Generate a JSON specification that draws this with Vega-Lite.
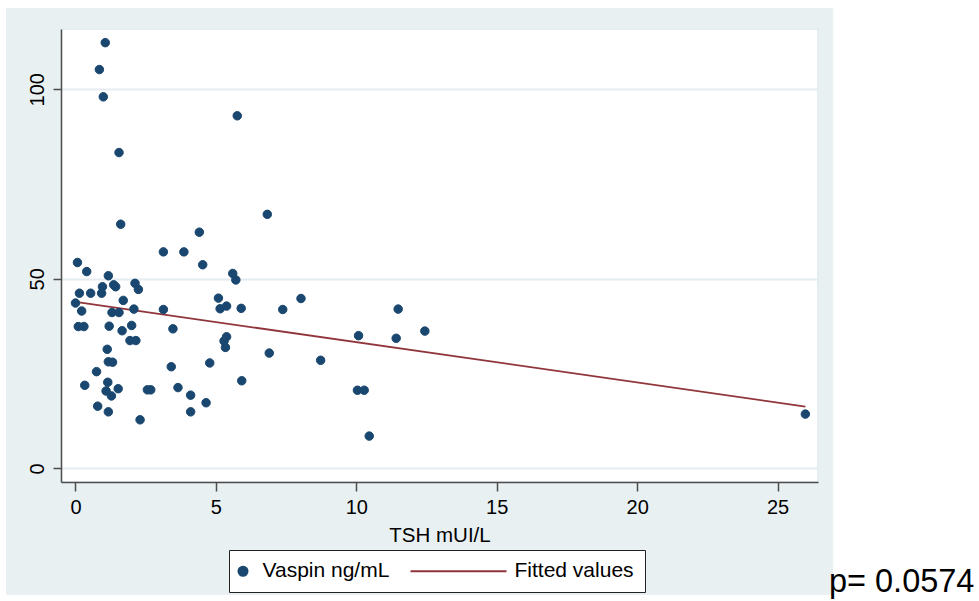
{
  "$schema": "https://vega.github.io/schema/vega-lite/v6.json",
  "width": 757,
  "height": 453,
  "autosize": {"type": "none"},
  "padding": {"left": 61, "top": 29, "right": 161, "bottom": 119},
  "background": "#E8F0F2",
  "config": {
    "font": "Liberation Sans",
    "view": {"fill": "white", "stroke": "#E1EAEE", "strokeWidth": 1.5},
    "legend": {
      "orient": "none", "legendX": 168, "legendY": 521, "direction": "horizontal",
      "padding": 10.5, "strokeColor": "#222222", "fillColor": "white", "labelFontSize": 21,
      "labelColor": "black", "symbolSize": 85, "columnPadding": 17, "labelLimit": 300,
      "symbolStrokeWidth": 1.8, "symbolOffset": -7, "labelOffset": 9, "symbolOpacity": 1
    }
  },
  "datasets": {
    "pts": [
      {"tsh": 1.06, "vaspin": 112.3, "series": "Vaspin ng/mL"},
      {"tsh": 0.85, "vaspin": 105.2, "series": "Vaspin ng/mL"},
      {"tsh": 0.99, "vaspin": 98.0, "series": "Vaspin ng/mL"},
      {"tsh": 5.76, "vaspin": 93.0, "series": "Vaspin ng/mL"},
      {"tsh": 1.55, "vaspin": 83.3, "series": "Vaspin ng/mL"},
      {"tsh": 6.83, "vaspin": 67.0, "series": "Vaspin ng/mL"},
      {"tsh": 1.61, "vaspin": 64.4, "series": "Vaspin ng/mL"},
      {"tsh": 4.41, "vaspin": 62.3, "series": "Vaspin ng/mL"},
      {"tsh": 3.13, "vaspin": 57.1, "series": "Vaspin ng/mL"},
      {"tsh": 3.86, "vaspin": 57.1, "series": "Vaspin ng/mL"},
      {"tsh": 0.07, "vaspin": 54.3, "series": "Vaspin ng/mL"},
      {"tsh": 0.40, "vaspin": 51.9, "series": "Vaspin ng/mL"},
      {"tsh": 1.17, "vaspin": 50.8, "series": "Vaspin ng/mL"},
      {"tsh": 4.53, "vaspin": 53.7, "series": "Vaspin ng/mL"},
      {"tsh": 0.96, "vaspin": 47.9, "series": "Vaspin ng/mL"},
      {"tsh": 1.36, "vaspin": 48.4, "series": "Vaspin ng/mL"},
      {"tsh": 1.43, "vaspin": 47.9, "series": "Vaspin ng/mL"},
      {"tsh": 2.12, "vaspin": 48.8, "series": "Vaspin ng/mL"},
      {"tsh": 2.24, "vaspin": 47.2, "series": "Vaspin ng/mL"},
      {"tsh": 0.14, "vaspin": 46.2, "series": "Vaspin ng/mL"},
      {"tsh": 0.54, "vaspin": 46.2, "series": "Vaspin ng/mL"},
      {"tsh": 0.93, "vaspin": 46.2, "series": "Vaspin ng/mL"},
      {"tsh": 5.60, "vaspin": 51.4, "series": "Vaspin ng/mL"},
      {"tsh": 5.71, "vaspin": 49.7, "series": "Vaspin ng/mL"},
      {"tsh": 0.0, "vaspin": 43.6, "series": "Vaspin ng/mL"},
      {"tsh": 1.70, "vaspin": 44.3, "series": "Vaspin ng/mL"},
      {"tsh": 5.09, "vaspin": 44.9, "series": "Vaspin ng/mL"},
      {"tsh": 8.03, "vaspin": 44.8, "series": "Vaspin ng/mL"},
      {"tsh": 0.22, "vaspin": 41.5, "series": "Vaspin ng/mL"},
      {"tsh": 1.30, "vaspin": 41.1, "series": "Vaspin ng/mL"},
      {"tsh": 1.55, "vaspin": 41.1, "series": "Vaspin ng/mL"},
      {"tsh": 2.08, "vaspin": 42.0, "series": "Vaspin ng/mL"},
      {"tsh": 3.13, "vaspin": 41.9, "series": "Vaspin ng/mL"},
      {"tsh": 5.15, "vaspin": 42.1, "series": "Vaspin ng/mL"},
      {"tsh": 5.38, "vaspin": 42.8, "series": "Vaspin ng/mL"},
      {"tsh": 5.90, "vaspin": 42.2, "series": "Vaspin ng/mL"},
      {"tsh": 7.38, "vaspin": 41.9, "series": "Vaspin ng/mL"},
      {"tsh": 0.10, "vaspin": 37.4, "series": "Vaspin ng/mL"},
      {"tsh": 0.30, "vaspin": 37.4, "series": "Vaspin ng/mL"},
      {"tsh": 1.20, "vaspin": 37.5, "series": "Vaspin ng/mL"},
      {"tsh": 2.00, "vaspin": 37.7, "series": "Vaspin ng/mL"},
      {"tsh": 1.66, "vaspin": 36.3, "series": "Vaspin ng/mL"},
      {"tsh": 3.47, "vaspin": 36.8, "series": "Vaspin ng/mL"},
      {"tsh": 1.94, "vaspin": 33.7, "series": "Vaspin ng/mL"},
      {"tsh": 2.15, "vaspin": 33.7, "series": "Vaspin ng/mL"},
      {"tsh": 5.38, "vaspin": 34.7, "series": "Vaspin ng/mL"},
      {"tsh": 5.29, "vaspin": 33.6, "series": "Vaspin ng/mL"},
      {"tsh": 5.34, "vaspin": 31.9, "series": "Vaspin ng/mL"},
      {"tsh": 1.13, "vaspin": 31.4, "series": "Vaspin ng/mL"},
      {"tsh": 6.90, "vaspin": 30.4, "series": "Vaspin ng/mL"},
      {"tsh": 8.73, "vaspin": 28.5, "series": "Vaspin ng/mL"},
      {"tsh": 1.17, "vaspin": 28.1, "series": "Vaspin ng/mL"},
      {"tsh": 1.32, "vaspin": 28.0, "series": "Vaspin ng/mL"},
      {"tsh": 3.41, "vaspin": 26.8, "series": "Vaspin ng/mL"},
      {"tsh": 4.78, "vaspin": 27.8, "series": "Vaspin ng/mL"},
      {"tsh": 0.75, "vaspin": 25.5, "series": "Vaspin ng/mL"},
      {"tsh": 5.92, "vaspin": 23.1, "series": "Vaspin ng/mL"},
      {"tsh": 0.33, "vaspin": 21.9, "series": "Vaspin ng/mL"},
      {"tsh": 1.15, "vaspin": 22.7, "series": "Vaspin ng/mL"},
      {"tsh": 1.09, "vaspin": 20.4, "series": "Vaspin ng/mL"},
      {"tsh": 1.28, "vaspin": 19.1, "series": "Vaspin ng/mL"},
      {"tsh": 1.52, "vaspin": 21.0, "series": "Vaspin ng/mL"},
      {"tsh": 2.56, "vaspin": 20.7, "series": "Vaspin ng/mL"},
      {"tsh": 2.68, "vaspin": 20.7, "series": "Vaspin ng/mL"},
      {"tsh": 3.65, "vaspin": 21.3, "series": "Vaspin ng/mL"},
      {"tsh": 4.10, "vaspin": 19.3, "series": "Vaspin ng/mL"},
      {"tsh": 4.65, "vaspin": 17.3, "series": "Vaspin ng/mL"},
      {"tsh": 0.79, "vaspin": 16.4, "series": "Vaspin ng/mL"},
      {"tsh": 1.17, "vaspin": 14.9, "series": "Vaspin ng/mL"},
      {"tsh": 4.10, "vaspin": 14.9, "series": "Vaspin ng/mL"},
      {"tsh": 2.30, "vaspin": 12.8, "series": "Vaspin ng/mL"},
      {"tsh": 10.08, "vaspin": 35.0, "series": "Vaspin ng/mL"},
      {"tsh": 11.49, "vaspin": 42.0, "series": "Vaspin ng/mL"},
      {"tsh": 11.42, "vaspin": 34.3, "series": "Vaspin ng/mL"},
      {"tsh": 12.44, "vaspin": 36.2, "series": "Vaspin ng/mL"},
      {"tsh": 10.04, "vaspin": 20.6, "series": "Vaspin ng/mL"},
      {"tsh": 10.28, "vaspin": 20.6, "series": "Vaspin ng/mL"},
      {"tsh": 10.46, "vaspin": 8.5, "series": "Vaspin ng/mL"},
      {"tsh": 25.99, "vaspin": 14.3, "series": "Vaspin ng/mL"}
    ],
    "fit": [
      {"tsh": 0.0, "fitted": 43.9},
      {"tsh": 25.99, "fitted": 16.3}
    ]
  },
  "layer": [
    {
      "data": {"name": "fit"},
      "mark": {"type": "line", "color": "#90353b", "strokeWidth": 1.8},
      "encoding": {
        "x": {
          "field": "tsh", "type": "quantitative",
          "scale": {"domain": [-0.516, 26.44], "nice": false, "zero": false},
          "axis": {
            "title": "TSH mUI/L", "values": [0, 5, 10, 15, 20, 25], "grid": false,
            "domainColor": "#4d4d4d", "domainWidth": 1.5, "tickColor": "#4d4d4d", "tickWidth": 1.5,
            "tickSize": 9, "labelFontSize": 20, "labelColor": "black", "labelPadding": 6, "labelFlush": false,
            "titleFontSize": 20.5, "titleFontWeight": "normal", "titleColor": "black", "titlePadding": 8
          }
        },
        "y": {
          "field": "fitted", "type": "quantitative",
          "scale": {"domain": [-3.61, 115.9], "nice": false, "zero": false},
          "axis": {
            "title": null, "values": [0, 50, 100], "grid": true, "gridColor": "#E4ECEF", "gridWidth": 2,
            "domainColor": "#4d4d4d", "domainWidth": 1.5, "tickColor": "#4d4d4d", "tickWidth": 1.5,
            "tickSize": 8, "labelFontSize": 20, "labelColor": "black", "labelAngle": 270,
            "labelAlign": "center", "labelBaseline": "bottom", "labelPadding": 6
          }
        }
      }
    },
    {
      "data": {"name": "pts"},
      "mark": {"type": "point", "filled": false, "opacity": 1, "size": 72, "strokeWidth": 1},
      "encoding": {
        "x": {"field": "tsh", "type": "quantitative"},
        "y": {"field": "vaspin", "type": "quantitative"},
        "color": {
          "field": "series", "type": "nominal",
          "scale": {"domain": ["Vaspin ng/mL", "Fitted values"], "range": ["#1a476f", "#90353b"]},
          "legend": {"title": null}
        },
        "fill": {
          "field": "series", "type": "nominal",
          "scale": {"domain": ["Vaspin ng/mL", "Fitted values"], "range": ["#1a476f", "#90353b"]},
          "legend": {"title": null}
        },
        "shape": {
          "field": "series", "type": "nominal",
          "scale": {"domain": ["Vaspin ng/mL", "Fitted values"], "range": ["circle", "M-18.32,0H2.5"]},
          "legend": {"title": null}
        }
      }
    },
    {
      "data": {"values": [{}]},
      "mark": {"type": "rect", "color": "white", "clip": false},
      "encoding": {
        "x": {"datum": 26.98, "type": "quantitative"}, "x2": {"datum": 40},
        "y": {"datum": -45, "type": "quantitative"}, "y2": {"datum": 130}
      }
    },
    {
      "data": {"values": [{}]},
      "mark": {"type": "rect", "color": "white", "clip": false},
      "encoding": {
        "x": {"datum": -5, "type": "quantitative"}, "x2": {"datum": -2.475},
        "y": {"datum": -45, "type": "quantitative"}, "y2": {"datum": 130}
      }
    },
    {
      "data": {"values": [{}]},
      "mark": {"type": "rect", "color": "white", "clip": false},
      "encoding": {
        "x": {"datum": -5, "type": "quantitative"}, "x2": {"datum": 40},
        "y": {"datum": 121.45, "type": "quantitative"}, "y2": {"datum": 130}
      }
    },
    {
      "data": {"values": [{}]},
      "mark": {"type": "rect", "color": "white", "clip": false},
      "encoding": {
        "x": {"datum": -5, "type": "quantitative"}, "x2": {"datum": 40},
        "y": {"datum": -45, "type": "quantitative"}, "y2": {"datum": -33.43}
      }
    },
    {
      "data": {"values": [{}]},
      "mark": {"type": "text", "text": "p= 0.0574", "align": "left", "baseline": "alphabetic", "fontSize": 32.5, "color": "black", "clip": false},
      "encoding": {
        "x": {"datum": 26.83, "type": "quantitative"},
        "y": {"datum": -32.64, "type": "quantitative"}
      }
    }
  ]
}
